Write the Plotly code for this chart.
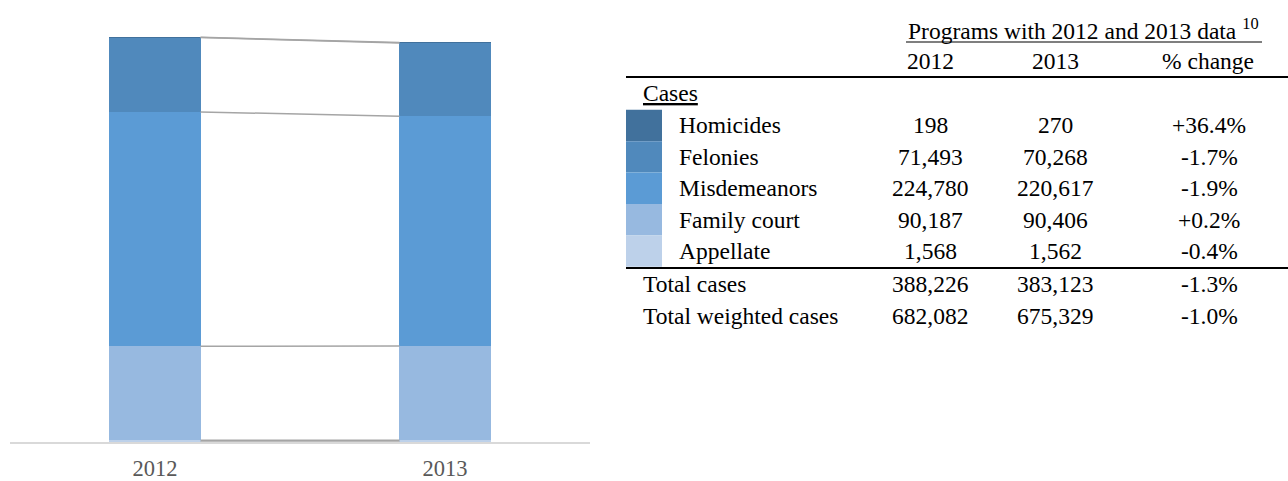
import plotly.graph_objects as go

# --- data ---
years = ["2012", "2013"]
categories = ["Homicides", "Felonies", "Misdemeanors", "Family court", "Appellate"]
cases_2012 = [198, 71493, 224780, 90187, 1568]
cases_2013 = [270, 70268, 220617, 90406, 1562]
pct_change = ["+36.4%", "-1.7%", "-1.9%", "+0.2%", "-0.4%"]
colors = ["#41719C", "#5089BC", "#5B9BD5", "#97B9E0", "#BDD1EA"]

total_labels = ["Total cases", "Total weighted cases"]
totals_2012 = [388226, 682082]
totals_2013 = [383123, 675329]
totals_pct = ["-1.3%", "-1.0%"]

# --- page geometry (pixels) ---
W, H = 1288, 481
ML, MR, MT, MB = 10, 698, 25, 39
PW = W - ML - MR
PH = H - MT - MB
BAR_W = 0.314
FONT = "Liberation Serif, Times New Roman, serif"
TFS = 23.5  # table font size


def px(x):
    return (x - ML) / PW


def py(y):
    return (H - MB - y) / PH


fig = go.Figure()

# stacked bars, bottom series first (table order reversed)
xs = [0, 1]
for i in reversed(range(len(categories))):
    fig.add_trace(go.Bar(
        x=xs, y=[cases_2012[i], cases_2013[i]], width=BAR_W,
        marker=dict(color=colors[i], line=dict(width=0)),
        name=categories[i], showlegend=False, hoverinfo="y+name"
    ))

# series lines between the two bars
cum12, cum13 = [0], [0]
for i in reversed(range(len(categories))):
    cum12.append(cum12[-1] + cases_2012[i])
    cum13.append(cum13[-1] + cases_2013[i])
for a, b in zip(cum12, cum13):
    fig.add_trace(go.Scatter(
        x=[BAR_W / 2, 1 - BAR_W / 2], y=[a, b], mode="lines",
        line=dict(color="#A5A5A5", width=1.5), hoverinfo="skip", showlegend=False
    ))

fig.update_layout(
    width=W, height=H, barmode="stack",
    margin=dict(l=ML, r=MR, t=MT, b=MB, autoexpand=False),
    paper_bgcolor="white", plot_bgcolor="white",
    xaxis=dict(range=[-0.5, 1.5], tickvals=xs, ticktext=years,
               showgrid=False, zeroline=False, showline=True,
               linecolor="#D9D9D9", linewidth=1.5, ticks="",
               ticklabelstandoff=5, automargin=False,
               tickfont=dict(family=FONT, size=22.5, color="#595959")),
    yaxis=dict(range=[0, 400000], visible=False, showgrid=False, zeroline=False),
    font=dict(family=FONT, size=TFS, color="black"),
)

# --- table on the right ---
ann = []
shapes = []


def text(x, y, s, anchor="center"):
    ann.append(dict(x=px(x), y=py(y), xref="paper", yref="paper", text=s,
                    showarrow=False, xanchor=anchor, yanchor="middle",
                    font=dict(family=FONT, size=TFS, color="black")))


def hline(x0, x1, y, w):
    shapes.append(dict(type="line", xref="paper", yref="paper",
                       x0=px(x0), x1=px(x1), y0=py(y), y1=py(y),
                       line=dict(color="black", width=w)))


col_x = [930, 1055, 1209]
row_h = 31.4

text(906, 29, "Programs with 2012 and 2013 data <sup>10</sup>", "left")
hline(906, 1262, 42, 1.2)
text(col_x[0], 61, years[0])
text(col_x[1], 61, years[1])
text(1256, 61, "% change", "right")
hline(626, 1288, 77, 2)

text(641, 93, "<u>Cases</u>", "left")
for i, cat in enumerate(categories):
    yc = 125.5 + i * row_h
    shapes.append(dict(type="rect", xref="paper", yref="paper",
                       x0=px(626), x1=px(662),
                       y0=py(yc - row_h / 2), y1=py(yc + row_h / 2),
                       fillcolor=colors[i], line=dict(width=0)))
    text(677, yc, cat, "left")
    text(col_x[0], yc, f"{cases_2012[i]:,}")
    text(col_x[1], yc, f"{cases_2013[i]:,}")
    text(col_x[2], yc, pct_change[i])
hline(626, 1288, 268, 2)

for j, lab in enumerate(total_labels):
    yc = 284 + j * 32
    text(641, yc, lab, "left")
    text(col_x[0], yc, f"{totals_2012[j]:,}")
    text(col_x[1], yc, f"{totals_2013[j]:,}")
    text(col_x[2], yc, totals_pct[j])

fig.update_layout(annotations=ann, shapes=shapes)

fig.write_html("out.html", config={"displayModeBar": False},
               post_script="document.body.style.margin='0';")
